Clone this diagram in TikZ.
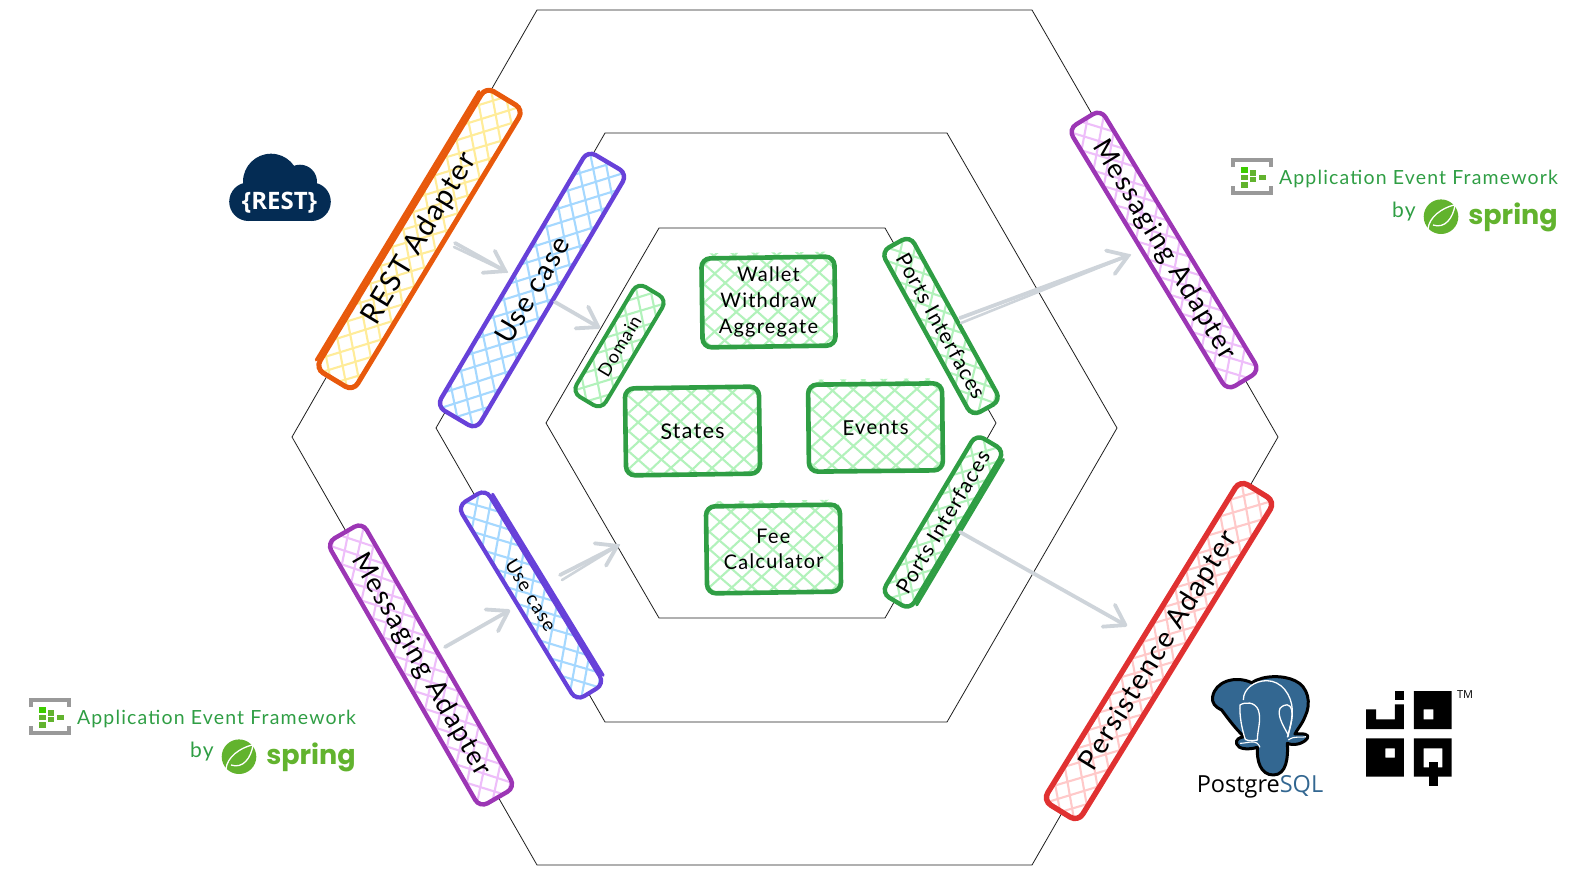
\documentclass[tikz,border=0pt]{standalone}
\usepackage{fontspec}
\usetikzlibrary{arrows.meta,calc}
\newfontfamily\hand[LetterSpace=6]{Lato}
\newfontfamily\appsans{Open Sans}
\newfontfamily\springf{Poppins}
\definecolor{hexline}{HTML}{1E1E1E}
\definecolor{cOrange}{HTML}{E8590C}
\definecolor{cViolet}{HTML}{6741D9}
\definecolor{cGreen}{HTML}{2F9E44}
\definecolor{cPurple}{HTML}{9C36B5}
\definecolor{cRed}{HTML}{E03131}
\definecolor{fYellow}{HTML}{FFEC99}
\definecolor{fBlue}{HTML}{A5D8FF}
\definecolor{fGreen}{HTML}{B2F2BB}
\definecolor{fPurple}{HTML}{EEBEFA}
\definecolor{fRed}{HTML}{FFC9C9}
\definecolor{arrowgray}{HTML}{CED4DA}
\definecolor{navy}{HTML}{042C54}
\definecolor{springg}{HTML}{62B32E}
\definecolor{pgblue}{HTML}{336791}
\tikzset{
  hexa/.style={draw=hexline,line width=0.8pt,line join=miter},
  sbar/.style n args={5}{draw=#4,line width=#5,rotate=#3,minimum width=#1,minimum height=#2,
     inner sep=0pt,rounded corners=9pt,text=black,shape=rectangle,align=center},
  handf/.style={font={\hand\fontsize{#1}{25}\selectfont}},
  flow/.style={draw=arrowgray,line width=3.8pt,line cap=round,
     -{Straight Barb[length=19pt,width=25pt,line width=3.8pt,round]}},
  flowtwin/.style={draw=arrowgray,line width=2.6pt,line cap=round},
  twinedge/.style={line width=3pt,line cap=round,shorten >=10pt,shorten <=10pt},
}
% cx cy len wid angle colour overshoot
\newcommand{\hatchbg}[7]{%
  \begin{scope}[shift={(#1,#2)},rotate=#5]
    \fill[white,rounded corners=9pt] (-#3/2,-#4/2) rectangle (#3/2,#4/2);
    \begin{scope}
      \clip[rounded corners=9pt] (-#3/2,-#4/2-#7) rectangle (#3/2,#4/2);
      \foreach \t in {-400,-379,...,400}{
        \draw[#6,line width=2.1pt] (\t-60+rand*2,-54) -- (\t+60+rand*2,54);
        \draw[#6,line width=2.1pt] (\t-60+rand*2,54) -- (\t+60+rand*2,-54);
      }
    \end{scope}
  \end{scope}}
% dx dy prefix
\newcommand{\appevent}[3]{%
  \begin{scope}[shift={(#1,#2)}]
    \draw[gray!80,line width=3.6pt,line cap=butt] (1232.8,167) -- (1232.8,159.8) -- (1271.2,159.8) -- (1271.2,167);
    \draw[gray!80,line width=3.6pt,line cap=butt] (1232.8,186) -- (1232.8,193.2) -- (1271.2,193.2) -- (1271.2,186);
    \fill[green!60!lime!80!black] (1241,167) rectangle (1247.5,172.5);
    \fill[springg] (1241,174.5) rectangle (1247.5,180);
    \fill[springg] (1241,182) rectangle (1247.5,187.5);
    \fill[springg] (1250,170) rectangle (1256,175.5);
    \fill[springg] (1250,177) rectangle (1256,182);
    \fill[springg] (1259,174.5) rectangle (1266,179.5);
    \node[handf=19.5,text=cGreen,anchor=center,inner sep=0pt] (#3title) at (1418.5,179) {Application Event Framework};
    \node[handf=21,text=cGreen,inner sep=0pt] (#3by) at (1404,212) {by};
    \fill[springg] (1441,216.7) circle (17.3);
    \draw[white,line width=1.3pt] (1428,229) .. controls (1429,217) and (1442,208) .. (1454,205);
    \draw[white,line width=1.3pt] (1433,225) .. controls (1445,229) and (1453,218) .. (1455,205);
    \node[font={\springf\bfseries\fontsize{27}{27}\selectfont},text=springg,inner sep=0pt] (#3spring) at (1513,217) {spring};
  \end{scope}}
\begin{document}
\begin{tikzpicture}[x=1pt,y=-1pt]
\useasboundingbox (0,0) rectangle (1570,876);
\pgfmathsetseed{7}
% hexagons
\draw[hexa] (537,10) -- (1032,10) -- (1278,437) -- (1032,865) -- (537,865) -- (292,437) -- cycle;
\draw[hexa] (605,133) -- (947,133) -- (1117,428) -- (947,722) -- (605,722) -- (436,428) -- cycle;
\draw[hexa] (659,228) -- (885,228) -- (996,423) -- (885,618) -- (659,618) -- (546,423) -- cycle;
\coordinate (innerSW) at (619,545);

% bars
\hatchbg{419.5}{239}{329}{44}{58.8}{fYellow}{0}
\node[sbar={329}{44}{58.8}{cOrange}{5pt},handf=29] (restbar) at (419.5,239) {REST Adapter};
\draw[cOrange,twinedge] ([shift={(-1,-0.6)}]restbar.north west) -- ([shift={(-1,-0.6)}]restbar.north east);

\hatchbg{532}{290}{297}{46}{59.4}{fBlue}{0}
\node[sbar={297}{46}{59.4}{cViolet}{4.4pt},handf=28] (usebar) at (532,290) {Use case};

\hatchbg{619.5}{346}{128}{34}{59.1}{fGreen}{0}
\node[sbar={128}{34}{59.1}{cGreen}{4pt},handf=18] (domainbar) at (619.5,346) {Domain};

\hatchbg{941}{326}{188}{33}{-61.1}{fGreen}{0}
\node[sbar={188}{33}{-61.1}{cGreen}{4.4pt},handf=21] (portsA) at (941,326) {Ports Interfaces};

\hatchbg{943}{522}{185}{33}{59.2}{fGreen}{0}
\node[sbar={185}{33}{59.2}{cGreen}{4.4pt},handf=21] (portsB) at (943,522) {Ports Interfaces};
\draw[cGreen,twinedge] ([shift={(1,0.6)}]portsB.south west) -- ([shift={(1,0.6)}]portsB.south east);

\hatchbg{1164}{250}{306}{38}{-58.7}{fPurple}{0}
\node[sbar={306}{38}{-58.7}{cPurple}{4.4pt},handf=27] (msgR) at (1164,250) {Messaging Adapter};

\hatchbg{1159}{651}{376}{41}{58.4}{fRed}{0}
\node[sbar={376}{41}{58.4}{cRed}{5.4pt},handf=28] (persist) at (1159,651) {Persistence Adapter};

\hatchbg{421}{665}{306}{41}{-60}{fPurple}{0}
\node[sbar={306}{41}{-60}{cPurple}{4.4pt},handf=27] (msgL) at (421,665) {Messaging Adapter};

\hatchbg{531}{595}{228}{33}{-58.6}{fBlue}{0}
\node[sbar={228}{33}{-58.6}{cViolet}{4.2pt},handf=19] (useL) at (531,595) {Use case};
\draw[cViolet,twinedge] ([shift={(1,-0.6)}]useL.north west) -- ([shift={(1,-0.6)}]useL.north east);

% boxes
\hatchbg{768.5}{302}{133}{89}{0.8}{fGreen}{5}
\node[sbar={133}{89}{0.8}{cGreen}{4.6pt},handf=20] (wallet) at (768.5,302) {\rotatebox{-0.8}{\begin{tabular}{@{}c@{}}Wallet\\[1pt]Withdraw\\[1pt]Aggregate\end{tabular}}};
\hatchbg{692.5}{431}{134}{87}{0.8}{fGreen}{0}
\node[sbar={134}{87}{0.8}{cGreen}{4.6pt},handf=21.5] (states) at (692.5,431) {States};
\hatchbg{875.5}{427.5}{134}{87}{0.6}{fGreen}{5}
\node[sbar={134}{87}{0.6}{cGreen}{4.6pt},handf=20.5] (events) at (875.5,427.5) {Events};
\hatchbg{773.5}{549}{134}{87}{0.8}{fGreen}{5}
\node[sbar={134}{87}{0.8}{cGreen}{4.6pt},handf=20] (fee) at (773.5,549) {Fee\\Calculator};

% connectors
\draw[flow] ([shift={(35.5,4)}]restbar.center) -- ([shift={(-25,-18)}]usebar.center);
\draw[flowtwin] ([shift={(34.5,8)}]restbar.center) -- ([shift={(-25,-18)}]usebar.center);
\draw[flow] ([shift={(23,12)}]usebar.center) -- ([shift={(-19.5,-18)}]domainbar.center);
\draw[flow] ([shift={(19,-8)}]portsA.center) -- ([shift={(-34,5)}]msgR.center);
\draw[flowtwin] ([shift={(20,-3)}]portsA.center) -- ([shift={(-34,5)}]msgR.center);
\draw[flow] ([shift={(17,10)}]portsB.center) -- ([shift={(-32,-25)}]persist.center);
\draw[flow] ([shift={(24,-18)}]msgL.center) -- ([shift={(-21,15)}]useL.center);
\draw[flow] ([shift={(29,-20)}]useL.center) -- (innerSW);
\draw[flowtwin] ([shift={(31,-15)}]useL.center) -- (innerSW);

% REST cloud
\fill[navy] (271,181.7) circle (28);
\fill[navy] (300,181.7) circle (17);
\fill[navy] (248.5,201.7) circle (19.3);
\fill[navy] (311.5,201.7) circle (19.3);
\fill[navy] (248.5,188) rectangle (311.5,221);
\node[font={\appsans\bfseries\fontsize{24}{24}\selectfont},text=white,inner sep=0pt] (resttxt) at (279.5,203) {\{REST\}};

% application events
\appevent{0}{0}{up}
\appevent{-1202}{540}{low}

% PostgreSQL
\begin{scope}[shift={(1180,660)},scale=0.3333]
  \path[fill=pgblue,draw=black,line width=3pt,line join=round] (98,110)
    .. controls (105,65) and (165,45) .. (215,68)
    .. controls (250,45) and (310,45) .. (345,62)
    .. controls (385,80) and (395,130) .. (375,170)
    .. controls (365,195) and (350,210) .. (345,222)
    .. controls (370,220) and (390,222) .. (382,235)
    .. controls (370,252) and (340,258) .. (322,250)
    .. controls (325,290) and (320,345) .. (280,345)
    .. controls (240,345) and (230,300) .. (232,262)
    .. controls (205,270) and (175,268) .. (170,252)
    .. controls (165,238) and (180,232) .. (192,230)
    .. controls (165,205) and (140,170) .. (125,150)
    .. controls (105,140) and (95,130) .. (98,110) -- cycle;
  \draw[white,line width=1.3pt] (190,120) .. controls (190,85) and (225,62) .. (260,62)
     .. controls (305,62) and (335,105) .. (337,150) .. controls (338,180) and (330,205) .. (322,232);
  \draw[white,line width=1.3pt] (180,135) .. controls (195,125) and (225,125) .. (235,150)
     .. controls (245,180) and (232,210) .. (232,240) .. controls (215,245) and (190,240) .. (195,235)
     .. controls (185,205) and (178,165) .. (180,135) -- cycle;
  \draw[white,line width=1.3pt] (300,145) .. controls (315,130) and (330,130) .. (335,150)
     .. controls (340,175) and (325,215) .. (325,225) .. controls (305,190) and (292,165) .. (300,145);
  \draw[white,line width=1.1pt] (240,262) .. controls (230,235) and (205,250) .. (180,250);
  \draw[white,line width=1.1pt] (325,240) .. controls (345,225) and (365,235) .. (378,230);
\end{scope}
\node[font={\appsans\fontsize{23.5}{24}\selectfont},inner sep=0pt] (pgtext) at (1260,787) {Postgre\textcolor{pgblue}{SQL}};

% jOOQ
\begin{scope}[shift={(1180,660)},scale=0.3333]
  \fill[black] (645,93) rectangle (672,120);
  \fill[black] (645,133) -- (672,133) -- (672,207) -- (558,207) -- (558,148) -- (588,148) -- (588,178) -- (645,178) -- cycle;
  \fill[black,even odd rule] (702,93) rectangle (815,207) (731,148) rectangle (760,178);
  \fill[black,even odd rule] (558,235) rectangle (672,350) (616,265) rectangle (645,293);
  \fill[black,even odd rule] (702,235) rectangle (815,350) (731,265) rectangle (787,322);
  \fill[black] (746,307) rectangle (775,378);
\end{scope}
\node[font={\appsans\fontsize{11}{11}\selectfont},inner sep=0pt] (tm) at (1465,695) {TM};
\end{tikzpicture}
\end{document}
